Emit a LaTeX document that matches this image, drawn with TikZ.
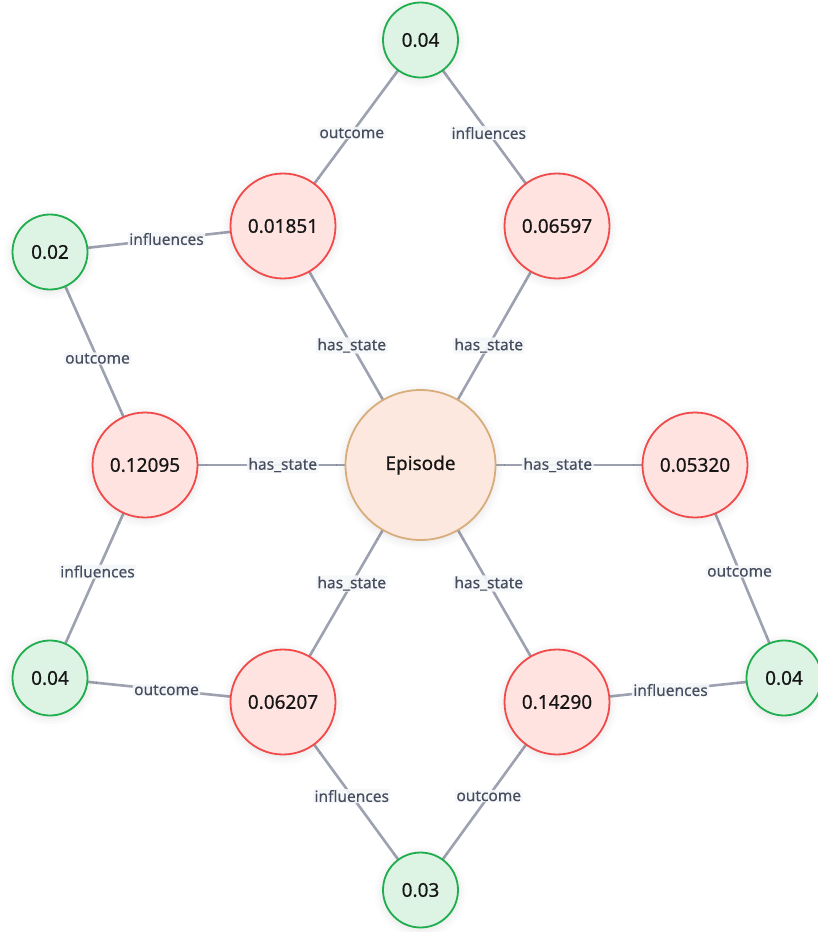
\documentclass[tikz,border=0pt]{standalone}
\usepackage{fontspec}
\setmainfont{Noto Sans}
\newfontfamily\nodefont[FakeBold=0.6]{Noto Sans}
\newfontfamily\tagfont[FakeBold=0.3]{Noto Sans}
\usetikzlibrary{shadows.blur}
\pgfdeclarelayer{edges}
\pgfsetlayers{edges,main}
\definecolor{edgecol}{HTML}{9DA1B0}
\definecolor{labeltext}{HTML}{464D5E}
\definecolor{labelbg}{HTML}{F4F6F9}
\definecolor{redfill}{HTML}{FFE3E1}
\definecolor{redline}{HTML}{F24A4A}
\definecolor{greenfill}{HTML}{DDF3E4}
\definecolor{greenline}{HTML}{1EAE4E}
\definecolor{epfill}{HTML}{FDE8DF}
\definecolor{epline}{HTML}{D8AD7C}
\definecolor{nodetext}{HTML}{161616}
\tikzset{
  x=1pt, y=-1pt,
  base/.style={circle, line width=1.8pt, text=nodetext, inner sep=0pt,
    font=\nodefont\fontsize{19}{22}\selectfont,
    blur shadow={shadow xshift=0pt, shadow yshift=-2pt, shadow blur radius=9pt, shadow opacity=12}},
  episode/.style={base, fill=epfill, draw=epline, minimum size=150pt},
  statenode/.style={base, fill=redfill, draw=redline, minimum size=105pt},
  valnode/.style={base, fill=greenfill, draw=greenline, minimum size=75pt},
  link/.style={draw=edgecol, line width=2.6pt},
  tag/.style={midway, fill=labelbg, fill opacity=0.92, text opacity=1, text=labeltext,
    inner xsep=1.5pt, inner ysep=1pt, rounded corners=2pt,
    font=\tagfont\fontsize{15.5}{18}\selectfont}
}
\begin{document}
\begin{tikzpicture}
\useasboundingbox (0,0) rectangle (818,932);

% central episode
\node[episode] (ep) at (420.5,465) {Episode};

% state nodes
\node[statenode] (s1) at (283,226) {0.01851};
\node[statenode] (s2) at (557,226) {0.06597};
\node[statenode] (s3) at (145,465) {0.12095};
\node[statenode] (s4) at (695,465) {0.05320};
\node[statenode] (s5) at (283,702) {0.06207};
\node[statenode] (s6) at (557,702) {0.14290};

% value nodes
\node[valnode] (v1) at (420.5,40) {0.04};
\node[valnode] (v2) at (50,252) {0.02};
\node[valnode] (v3) at (50,678) {0.04};
\node[valnode] (v4) at (784,678) {0.04};
\node[valnode] (v5) at (420.5,890) {0.03};

\begin{pgfonlayer}{edges}
  \path[link] (ep.center) -- (s1.center) node[tag] {has\_state};
  \path[link] (ep.center) -- (s2.center) node[tag] {has\_state};
  \path[link] (ep.center) -- (s3.center) node[tag] {has\_state};
  \path[link] (ep.center) -- (s4.center) node[tag] {has\_state};
  \path[link] (ep.center) -- (s5.center) node[tag] {has\_state};
  \path[link] (ep.center) -- (s6.center) node[tag] {has\_state};
  \path[link] (s1.center) -- (v1.center) node[tag] {outcome};
  \path[link] (s2.center) -- (v1.center) node[tag] {influences};
  \path[link] (s1.center) -- (v2.center) node[tag] {influences};
  \path[link] (s3.center) -- (v2.center) node[tag] {outcome};
  \path[link] (s3.center) -- (v3.center) node[tag] {influences};
  \path[link] (s5.center) -- (v3.center) node[tag] {outcome};
  \path[link] (s5.center) -- (v5.center) node[tag] {influences};
  \path[link] (s6.center) -- (v5.center) node[tag] {outcome};
  \path[link] (s6.center) -- (v4.center) node[tag] {influences};
  \path[link] (s4.center) -- (v4.center) node[tag] {outcome};
\end{pgfonlayer}
\end{tikzpicture}
\end{document}
